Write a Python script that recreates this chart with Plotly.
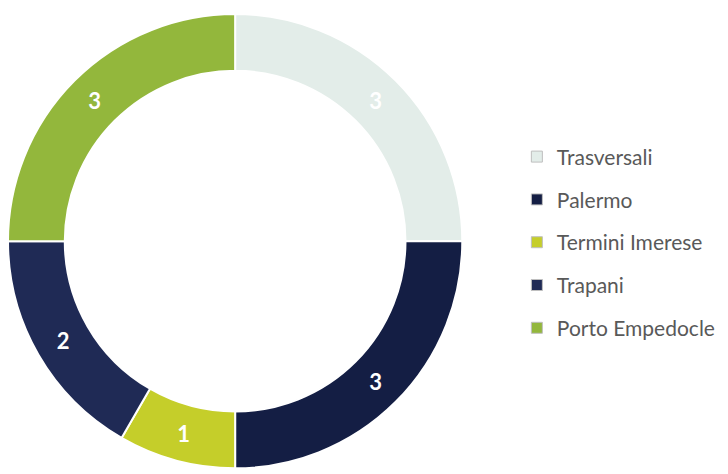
import plotly.graph_objects as go

# donut values
categories = ["Trasversali", "Palermo", "Termini Imerese", "Trapani", "Porto Empedocle"]
values = [3, 3, 1, 2, 3]
colors = ["#E3EDE9", "#141E44", "#C5CE2A", "#1F2A55", "#93B73C"]

fig = go.Figure()

fig.add_trace(go.Pie(
    labels=categories, values=values, hole=0.75, sort=False,
    direction="clockwise", rotation=0,
    marker=dict(colors=colors, line=dict(color="white", width=2)),
    textinfo="value", textposition="inside", insidetextorientation="horizontal",
    textfont=dict(family="Lato", size=22, color="white", weight="bold"),
    domain=dict(x=[0.0, 0.624], y=[0.018, 0.998]),
    showlegend=False,
))

# legend entries as dummy traces so the gaps between items can be set
for i, (name, col) in enumerate(zip(categories, colors)):
    fig.add_trace(go.Scatter(
        x=[None], y=[None], mode="markers", name=name, legendgroup=name,
        marker=dict(symbol="square", size=11, color=col, line=dict(color="#BFBFBF", width=1)),
    ))

fig.update_layout(
    width=728, height=474,
    margin=dict(l=0, r=0, t=0, b=0),
    paper_bgcolor="white", plot_bgcolor="white",
    xaxis=dict(visible=False), yaxis=dict(visible=False),
    legend=dict(x=0.699, y=0.729, xanchor="left", yanchor="top",
                font=dict(family="Lato", size=21, color="#595959"),
                tracegroupgap=12.5, itemsizing="trace", bgcolor="rgba(0,0,0,0)"),
)

fig.write_html("out.html")
